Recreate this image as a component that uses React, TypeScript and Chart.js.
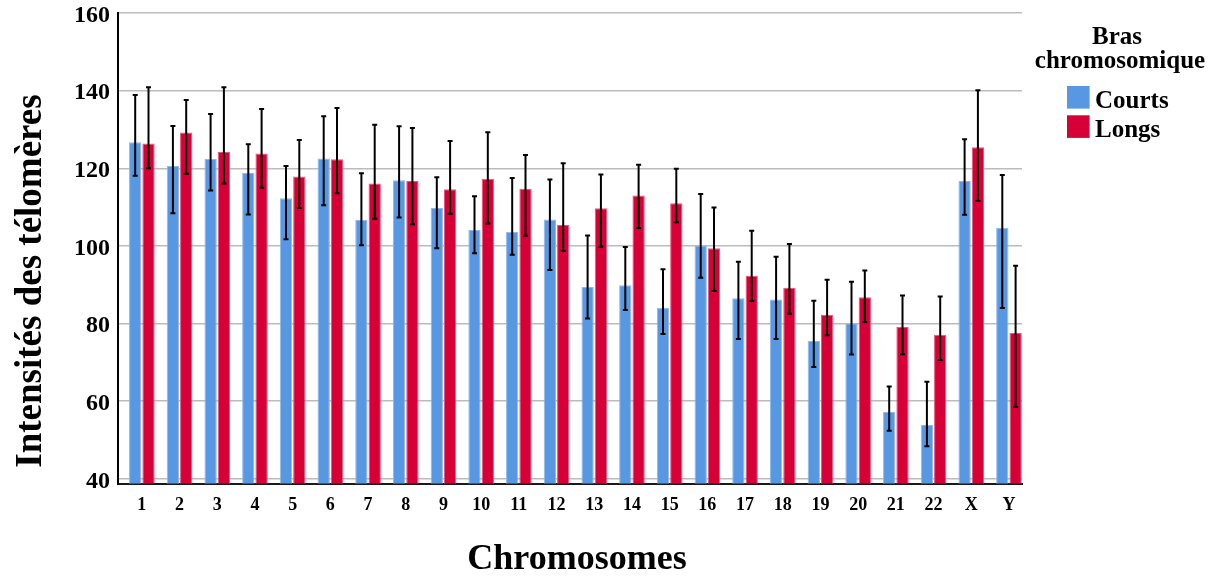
import React, { useEffect, useRef } from 'react';
import { Chart, registerables } from 'chart.js';

Chart.register(...registerables);

const categories = ['1', '2', '3', '4', '5', '6', '7', '8', '9', '10', '11', '12', '13', '14', '15', '16', '17', '18', '19', '20', '21', '22', 'X', 'Y'];

const courts = [126.7, 120.6, 122.4, 118.8, 112.3, 122.5, 106.7, 116.9, 109.8, 104.1, 103.6, 106.8, 89.4, 89.9, 84.1, 100.1, 86.5, 86.2, 75.5, 80.1, 57.2, 53.9, 116.7, 104.7];
const courtsHigh = [138.9, 130.9, 134.0, 126.2, 120.6, 133.4, 118.7, 130.8, 117.7, 112.8, 117.5, 117.1, 102.7, 99.7, 94.0, 113.4, 95.9, 97.2, 85.9, 90.8, 63.8, 65.0, 127.5, 118.3];
const courtsLow = [118.1, 108.4, 114.3, 108.1, 101.7, 110.5, 100.2, 107.3, 99.4, 98.1, 97.7, 93.8, 81.3, 83.5, 77.3, 91.8, 76.0, 76.0, 68.8, 72.0, 52.4, 48.4, 108.0, 84.0];

const longs = [126.4, 129.2, 124.2, 123.8, 117.9, 122.3, 116.1, 116.7, 114.6, 117.3, 114.7, 105.4, 109.7, 113.0, 111.0, 99.4, 92.3, 89.2, 82.3, 86.8, 79.1, 77.1, 125.4, 77.6];
const longsHigh = [140.9, 137.6, 140.9, 135.3, 127.3, 135.5, 131.2, 130.4, 127.0, 129.3, 123.4, 121.3, 118.4, 120.9, 119.9, 109.9, 103.9, 100.5, 91.3, 93.7, 87.2, 87.0, 140.1, 94.9];
const longsLow = [120.0, 118.6, 116.1, 115.0, 109.8, 113.6, 107.0, 105.6, 108.3, 105.8, 102.6, 98.7, 99.8, 104.6, 106.1, 88.4, 85.8, 82.5, 77.0, 80.4, 72.1, 70.6, 111.6, 58.5];

const yTicks = [40, 60, 80, 100, 120, 140, 160];

const seriesLabels = ['Courts', 'Longs'];
const legendTitle = ['Bras', 'chromosomique'];
const xTitle = 'Chromosomes';
const yTitle = 'Intensités des télomères';

const FONT = "'Liberation Serif', 'Times New Roman', serif";
const BLUE = '#5898e3';
const RED = '#d70036';

export default function App() {
  const ref = useRef<HTMLCanvasElement>(null);

  useEffect(() => {
    if (!ref.current) return;

    const errorBars = {
      id: 'errorBars',
      afterDatasetsDraw(chart: any) {
        const { ctx } = chart;
        const y = chart.scales.y;
        const sets = [
          [courtsLow, courtsHigh],
          [longsLow, longsHigh],
        ];
        ctx.save();
        ctx.strokeStyle = '#000';
        ctx.lineWidth = 2;
        sets.forEach(([lo, hi], di) => {
          const meta = chart.getDatasetMeta(di);
          meta.data.forEach((bar: any, i: number) => {
            const x = bar.x;
            const yl = y.getPixelForValue(lo[i]);
            const yh = y.getPixelForValue(hi[i]);
            ctx.beginPath();
            ctx.moveTo(x, yl);
            ctx.lineTo(x, yh);
            ctx.stroke();
            ctx.beginPath();
            ctx.moveTo(x - 2.5, yl);
            ctx.lineTo(x + 2.5, yl);
            ctx.moveTo(x - 2.5, yh);
            ctx.lineTo(x + 2.5, yh);
            ctx.stroke();
          });
        });
        ctx.restore();
      },
    };

    const titlesAndLegend = {
      id: 'titlesAndLegend',
      afterDraw(chart: any) {
        const { ctx } = chart;
        ctx.save();
        ctx.fillStyle = '#000';
        ctx.textBaseline = 'alphabetic';
        // Y axis title
        ctx.font = `bold 37px ${FONT}`;
        ctx.textAlign = 'center';
        ctx.save();
        ctx.translate(41, 281);
        ctx.rotate(-Math.PI / 2);
        ctx.fillText(yTitle, 0, 0);
        ctx.restore();
        // X axis title
        ctx.font = `bold 36px ${FONT}`;
        ctx.fillText(xTitle, 577, 569);
        // Legend title
        ctx.font = `bold 25px ${FONT}`;
        ctx.fillText(legendTitle[0], 1117, 44);
        ctx.fillText(legendTitle[1], 1120, 68);
        // Legend items
        ctx.textAlign = 'left';
        chart.data.datasets.forEach((ds: any, i: number) => {
          const top = 86 + i * 29.3;
          ctx.fillStyle = ds.backgroundColor;
          ctx.fillRect(1067, top, 22.6, 22.6);
          ctx.fillStyle = '#000';
          ctx.fillText(ds.label, 1095, top + 21.5);
        });
        ctx.restore();
      },
    };

    const chart = new Chart(ref.current, {
      type: 'bar',
      data: {
        datasets: [
          {
            label: seriesLabels[0],
            data: categories.map((_, i) => ({ x: i + 1, y: courts[i] })),
            backgroundColor: BLUE,
            borderColor: '#8cb9ee',
            borderWidth: 1,
            borderSkipped: 'bottom',
          },
          {
            label: seriesLabels[1],
            data: categories.map((_, i) => ({ x: i + 1, y: longs[i] })),
            backgroundColor: RED,
            borderColor: '#e4577c',
            borderWidth: 1,
            borderSkipped: 'bottom',
          },
        ],
      },
      options: {
        responsive: false,
        animation: false,
        devicePixelRatio: 1,
        categoryPercentage: 0.706,
        barPercentage: 0.925,
        layout: { padding: { top: 13, left: 0, right: 197, bottom: 0 } },
        plugins: {
          legend: { display: false },
          tooltip: { enabled: false },
        },
        scales: {
          x: {
            type: 'linear',
            min: 0.3674,
            max: 24.346,
            offset: false,
            grid: { display: false, drawTicks: false },
            border: { display: true, color: '#1a1a1a', width: 2 },
            afterBuildTicks: (scale: any) => {
              scale.ticks = categories.map((_, i) => ({ value: i + 1 }));
            },
            afterFit: (scale: any) => {
              scale.height = 98.5;
              scale.paddingLeft = 0;
              scale.paddingRight = 0;
            },
            ticks: {
              autoSkip: false,
              maxRotation: 0,
              minRotation: 0,
              padding: 11,
              color: '#000',
              font: { family: FONT, size: 18, weight: 'bold' },
              callback: (v: any) => categories[Number(v) - 1] ?? '',
            },
          },
          y: {
            min: 38.8,
            max: 160,
            grid: { color: '#bbbbbb', lineWidth: 1.5, drawTicks: false },
            border: { display: true, color: '#000', width: 2 },
            afterBuildTicks: (scale: any) => {
              scale.ticks = yTicks.map((v) => ({ value: v }));
            },
            afterFit: (scale: any) => {
              scale.width = 118;
              scale.paddingTop = 0;
              scale.paddingBottom = 0;
            },
            ticks: {
              padding: 8,
              labelOffset: 2.5,
              color: '#000',
              font: { family: FONT, size: 24, weight: 'bold' },
            },
          },
        },
      },
      plugins: [errorBars, titlesAndLegend],
    } as any);

    return () => chart.destroy();
  }, []);

  return (
    <div style={{ position: 'absolute', left: 0, top: 0, width: 1219, height: 582, background: '#fff' }}>
      <canvas ref={ref} width={1219} height={582} style={{ display: 'block' }} />
    </div>
  );
}
